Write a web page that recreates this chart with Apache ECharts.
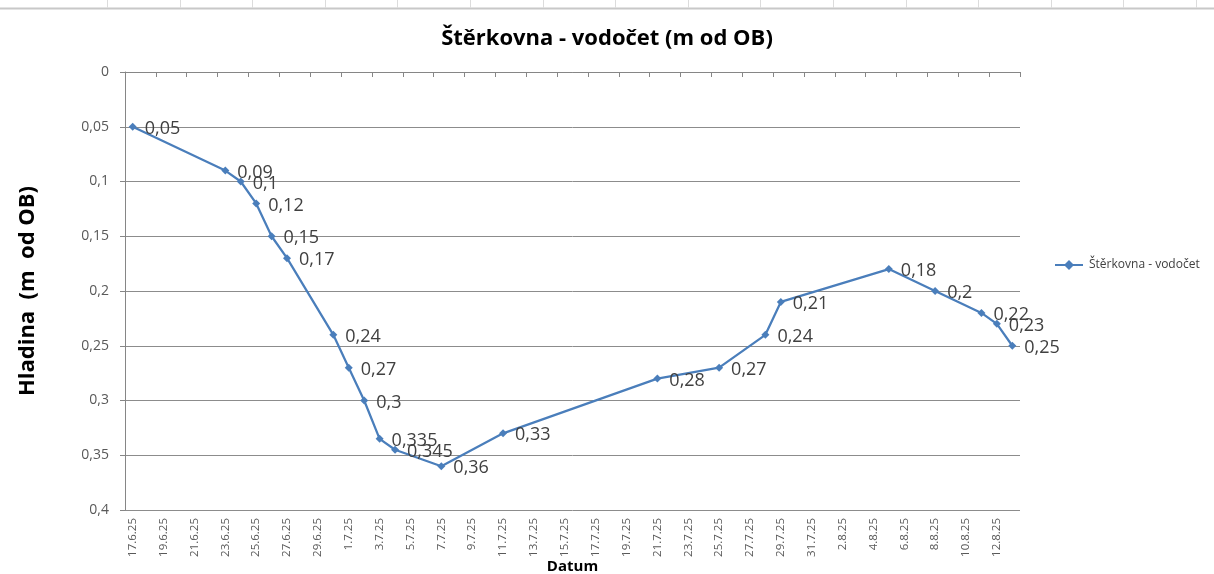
<!DOCTYPE html>
<html><head><meta charset="utf-8">
<script src="https://cdn.jsdelivr.net/npm/echarts@6/dist/echarts.min.js"></script>
<style>html,body{margin:0;padding:0;background:#fff}#c{width:1214px;height:574px}</style>
</head><body><div id="c"></div>
<script>
// Axis range (calendar days shown on category axis)
const axisStart = [2025, 6, 17];
const axisEnd = [2025, 8, 13];
// Measurement dates and water levels (m od OB)
const dates = ['17.6.25','23.6.25','24.6.25','25.6.25','26.6.25','27.6.25','30.6.25','1.7.25','2.7.25','3.7.25','4.7.25','7.7.25','11.7.25','21.7.25','25.7.25','28.7.25','29.7.25','5.8.25','8.8.25','11.8.25','12.8.25','13.8.25'];
const levels = [0.05,0.09,0.1,0.12,0.15,0.17,0.24,0.27,0.3,0.335,0.345,0.36,0.33,0.28,0.27,0.24,0.21,0.18,0.2,0.22,0.23,0.25];
const seriesName = 'Štěrkovna - vodočet';

function fmtDate(d){ return d.getDate()+'.'+(d.getMonth()+1)+'.'+String(d.getFullYear()).slice(2); }
const categories = [];
for (let d = new Date(axisStart[0], axisStart[1]-1, axisStart[2]); d <= new Date(axisEnd[0], axisEnd[1]-1, axisEnd[2]); d.setDate(d.getDate()+1)) {
  categories.push(fmtDate(d));
}
const comma = v => String(+(+v).toFixed(3)).replace('.', ',');

const gfx = [];
gfx.push({type:'line', shape:{x1:0,y1:8.5,x2:1214,y2:8.5}, style:{stroke:'#c8c8c8', lineWidth:2}});
for (let x = 107; x < 1214; x += 72.6) {
  gfx.push({type:'line', shape:{x1:Math.round(x)+0.5,y1:0,x2:Math.round(x)+0.5,y2:8}, style:{stroke:'#dcdcdc', lineWidth:1}});
}

const chart = echarts.init(document.getElementById('c'));
chart.setOption({
  animation:false,
  textStyle:{fontFamily:'"Open Sans", sans-serif'},
  graphic: gfx,
  title:{text:'Štěrkovna - vodočet (m od OB)', left:'center', top:23,
    textStyle:{fontSize:22, fontWeight:'bold', color:'#000', fontFamily:'"Open Sans", sans-serif'}},
  legend:{data:[{name:seriesName, icon:'path://M0,4 L10,4 L14,0 L18,4 L28,4 L28,6 L18,6 L14,10 L10,6 L0,6 Z'}],
    left:1050, top:254, itemWidth:30, itemHeight:10, itemGap:4,
    textStyle:{fontSize:12, color:'#404040'}},
  grid:{left:125, right:194, top:72, bottom:64, containLabel:false, outerBoundsMode:'none'},
  xAxis:{type:'category', data:categories, boundaryGap:true,
    name:'Datum', nameLocation:'middle', nameGap:49, nameMoveOverlap:false,
    nameTextStyle:{fontSize:15, fontWeight:'bold', color:'#000'},
    axisLine:{show:true, lineStyle:{color:'#868686', width:1}},
    axisTick:{show:true, interval:1, length:5, lineStyle:{color:'#868686'}},
    axisLabel:{interval:1, rotate:90, fontSize:11.5, color:'#595959', margin:8},
    splitLine:{show:false}},
  yAxis:{type:'value', inverse:true, min:0, max:0.4, interval:0.05,
    name:'Hladina  (m  od OB)', nameLocation:'middle', nameGap:86, nameRotate:90, nameMoveOverlap:false,
    nameTextStyle:{fontSize:22, fontWeight:'bold', color:'#000'},
    axisLine:{show:true, lineStyle:{color:'#868686'}},
    axisTick:{show:true, length:5, lineStyle:{color:'#868686'}},
    axisLabel:{formatter:comma, fontSize:14, color:'#595959', margin:16},
    splitLine:{show:true, lineStyle:{color:'#8c8c8c', width:1}}},
  series:[{name:seriesName, type:'line',
    data: dates.map((d,i)=>[d, levels[i]]),
    symbol:'diamond', symbolSize:8,
    lineStyle:{color:'#4A7EBB', width:2.25},
    itemStyle:{color:'#4A7EBB'},
    label:{show:true, position:'right', distance:8, offset:[0,2], fontSize:18, color:'#404040',
      formatter:p=>comma(p.value[1])}}]
});
</script></body></html>
